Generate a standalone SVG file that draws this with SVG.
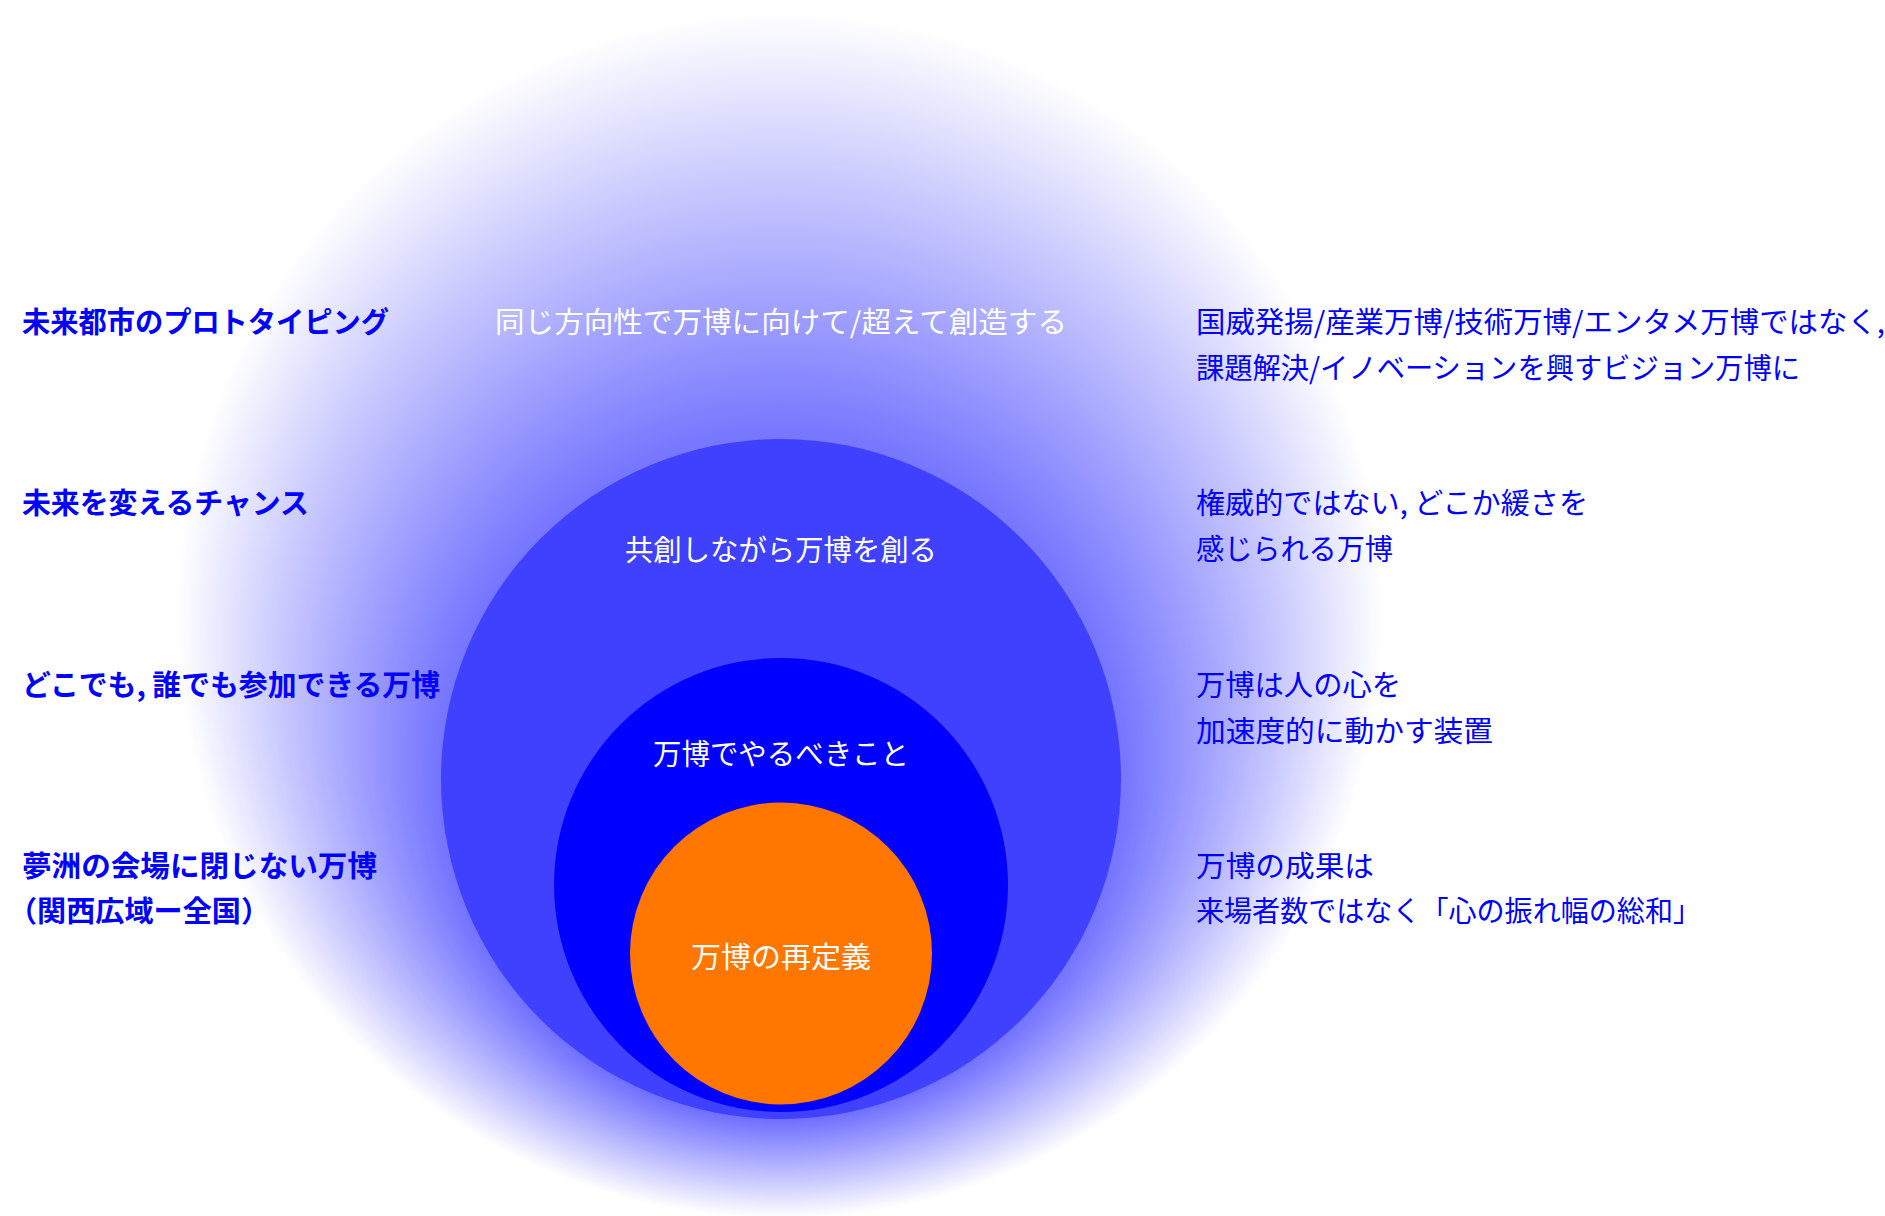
<svg xmlns="http://www.w3.org/2000/svg" width="1885" height="1216" viewBox="0 0 1885 1216">
<style>
  text { font-family: "Noto Sans CJK JP", "Noto Sans", sans-serif; font-size: 29px; }
  .lb { fill: #0000ff; font-weight: 700; }
  .rt { fill: #0000ff; font-weight: 400; }
  .ct { fill: #ffffff; font-weight: 400; text-anchor: middle; }
</style>
<defs>
  <radialGradient id="glow" gradientUnits="userSpaceOnUse" cx="780" cy="615" r="603" fx="780" fy="1000">
    <stop offset="0" stop-color="#4040ff"/>
    <stop offset="0.4" stop-color="#4040ff"/>
    <stop offset="1" stop-color="#ffffff"/>
  </radialGradient>
</defs>
<rect width="1885" height="1216" fill="#ffffff"/>
<g id="outer">
  <circle cx="780" cy="615" r="603" fill="url(#glow)"/>
  <text class="ct" x="781" y="333" textLength="572" lengthAdjust="spacingAndGlyphs">同じ方向性で万博に向けて/超えて創造する</text>
</g>
<g id="cocreate">
  <circle cx="781" cy="779" r="340" fill="#4040ff"/>
  <text class="ct" x="781" y="561" textLength="312" lengthAdjust="spacingAndGlyphs">共創しながら万博を創る</text>
</g>
<g id="todo">
  <circle cx="781" cy="885" r="227" fill="#0000ff"/>
  <text class="ct" x="781" y="765" textLength="256" lengthAdjust="spacingAndGlyphs">万博でやるべきこと</text>
</g>
<g id="redefine">
  <circle cx="781" cy="953.5" r="151" fill="#ff7700"/>
  <text class="ct" x="781" y="968" textLength="180" lengthAdjust="spacingAndGlyphs">万博の再定義</text>
</g>
<g id="left-labels">
  <text class="lb" x="22" y="333" textLength="367" lengthAdjust="spacingAndGlyphs">未来都市のプロトタイピング</text>
  <text class="lb" x="22" y="514" textLength="287" lengthAdjust="spacingAndGlyphs">未来を変えるチャンス</text>
  <text class="lb" x="22" y="696" textLength="418" lengthAdjust="spacingAndGlyphs">どこでも, 誰でも参加できる万博</text>
  <text class="lb" x="22" y="877" textLength="355" lengthAdjust="spacingAndGlyphs">夢洲の会場に閉じない万博</text>
  <text class="lb" x="8" y="922" textLength="262" lengthAdjust="spacingAndGlyphs">（関西広域ー全国）</text>
</g>
<g id="right-labels">
  <text class="rt" x="1196" y="333" textLength="689" lengthAdjust="spacingAndGlyphs">国威発揚/産業万博/技術万博/エンタメ万博ではなく,</text>
  <text class="rt" x="1196" y="379" textLength="604" lengthAdjust="spacingAndGlyphs">課題解決/イノベーションを興すビジョン万博に</text>
  <text class="rt" x="1196" y="514" textLength="392" lengthAdjust="spacingAndGlyphs">権威的ではない, どこか緩さを</text>
  <text class="rt" x="1196" y="560" textLength="197" lengthAdjust="spacingAndGlyphs">感じられる万博</text>
  <text class="rt" x="1196" y="696" textLength="205" lengthAdjust="spacingAndGlyphs">万博は人の心を</text>
  <text class="rt" x="1196" y="742" textLength="297" lengthAdjust="spacingAndGlyphs">加速度的に動かす装置</text>
  <text class="rt" x="1196" y="877" textLength="178" lengthAdjust="spacingAndGlyphs">万博の成果は</text>
  <text class="rt" x="1196" y="922" textLength="505" lengthAdjust="spacingAndGlyphs">来場者数ではなく「心の振れ幅の総和」</text>
</g>
<g id="connectors"/>
</svg>
